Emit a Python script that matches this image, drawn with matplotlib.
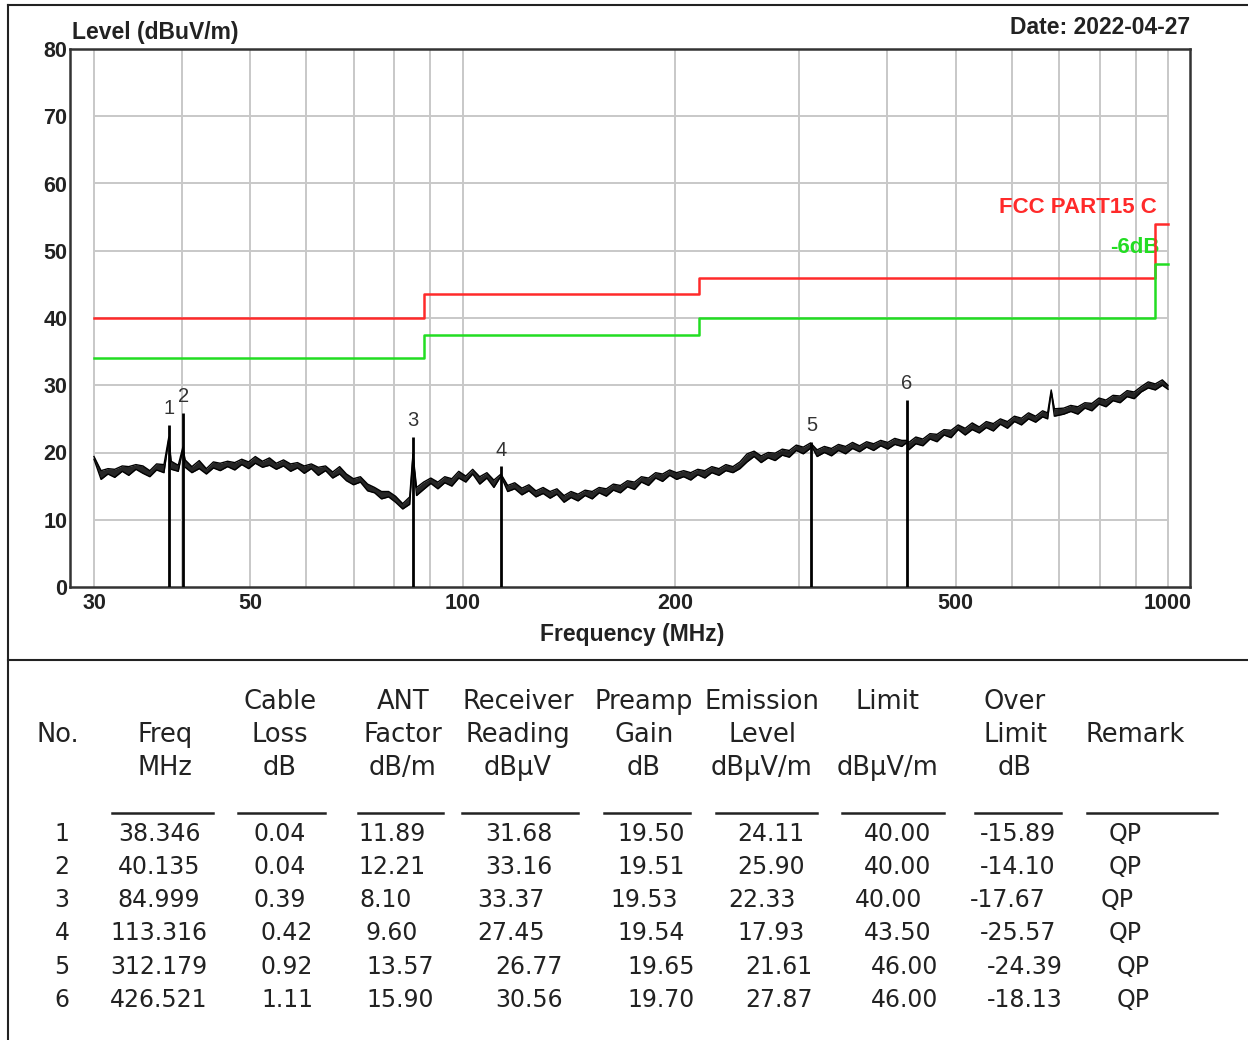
import matplotlib
matplotlib.use('Agg')
import matplotlib.pyplot as plt
from matplotlib.lines import Line2D

# ---- sweep trace: lower / upper edge of the noise band ----
freq = [30, 30.7, 31.4, 32.1, 32.9, 33.6, 34.4, 35.2, 36.0, 36.8, 37.7, 38.3, 38.6, 39.5, 40.1,
        40.4, 41.3, 42.3, 43.3, 44.3, 45.3, 46.4, 47.5, 48.6, 49.7, 50.8, 52.0, 53.2, 54.4, 55.7,
        57.0, 58.3, 59.6, 61.0, 62.4, 63.9, 65.4, 66.9, 68.4, 70.0, 71.6, 73.3, 75.0, 76.7, 78.5,
        80.3, 82.2, 84.1, 85.0, 86.0, 88.0, 90.1, 92.2, 94.3, 96.5, 98.7, 101, 103.3, 105.7, 108.2,
        110.7, 113.3, 115.8, 118.5, 121.3, 124.1, 127, 130, 133, 136, 139.2, 142.4, 145.7, 149.1,
        152.6, 156.1, 159.8, 163.5, 167.3, 171.2, 175.2, 179.2, 183.4, 187.7, 192, 196.5, 201,
        205.7, 210.5, 215.4, 220.4, 225.5, 230.8, 236.1, 241.6, 247.2, 253, 258.9, 264.9, 271,
        277.3, 283.8, 290.4, 297.1, 304, 311, 312.2, 318, 325.7, 333.3, 341, 349, 357, 365.3,
        373.8, 382.5, 391.4, 400.5, 409.8, 419.3, 426.5, 429, 439, 449.2, 459.7, 470.4, 481.3,
        492.5, 504, 515.7, 527.7, 540, 552.5, 565.4, 578.5, 592, 605.7, 619.8, 634.2, 649, 664,
        675, 683, 690, 711.5, 728, 745, 762.3, 780, 798.2, 816.7, 835.7, 855.2, 875, 895.4, 916.2,
        937.5, 959.3, 981.6, 1000]
level = [19.0, 16.0, 16.8, 16.3, 17.2, 16.6, 17.5, 16.9, 16.4, 17.4, 17.0, 22.0, 17.5, 17.2, 20.5,
         17.8, 17.0, 17.6, 16.8, 17.7, 17.3, 17.9, 17.4, 18.2, 17.6, 18.4, 17.8, 18.1, 17.5, 18.0,
         17.2, 17.7, 16.9, 17.6, 16.6, 17.3, 16.2, 16.8, 15.8, 15.2, 15.6, 14.3, 14.0, 13.1, 13.4,
         12.6, 11.6, 12.3, 19.5, 13.6, 14.5, 15.4, 14.6, 15.5, 15.0, 16.2, 15.6, 16.8, 15.3, 16.2,
         14.8, 16.5, 14.2, 14.6, 13.7, 14.3, 13.4, 13.9, 13.2, 13.8, 12.6, 13.3, 12.8, 13.6,
         13.1, 14.0, 13.5, 14.4, 14.0, 14.9, 14.5, 15.6, 15.1, 16.2, 15.7, 16.6, 16.0,
         16.4, 15.9, 16.7, 16.2, 17.0, 16.6, 17.3, 17.0, 17.6, 18.6, 19.4, 18.5, 19.2,
         18.8, 19.6, 19.3, 20.3, 19.8, 20.6, 21.0, 19.4, 20.0, 19.5, 20.3, 19.8, 20.6, 20.1,
         20.8, 20.3, 21.0, 20.5, 21.2, 20.9, 21.5, 20.4, 21.3, 21.0, 22.0, 21.6, 22.6,
         22.2, 23.4, 22.6, 23.4, 22.9, 23.7, 23.2, 24.2, 23.6, 24.6, 24.1, 25.0, 24.5, 25.3,
         25.0, 29.0, 25.4, 25.7, 26.1, 25.7, 26.6, 26.2, 27.2, 26.8, 27.7, 27.4, 28.3, 28.0, 29.0,
         29.6, 29.3, 30.0, 29.4]
level_hi = [19.4, 17.3, 17.6, 17.5, 18.0, 17.9, 18.2, 18.0, 17.3, 18.3, 18.2, 22.3, 18.7, 18.1, 20.8,
            18.9, 17.9, 18.8, 17.6, 18.6, 18.4, 18.7, 18.5, 19.0, 18.6, 19.4, 18.7, 19.2, 18.4, 18.9,
            18.3, 18.5, 18.0, 18.3, 17.8, 18.0, 17.1, 17.9, 16.8, 16.1, 16.4, 15.3, 14.8, 14.2, 14.2,
            13.5, 12.4, 13.4, 19.8, 14.8, 15.6, 16.2, 15.6, 16.4, 16.1, 17.2, 16.5, 17.5, 16.4, 17.0,
            15.9, 16.8, 15.1, 15.5, 14.7, 15.2, 14.3, 14.8, 14.2, 14.6, 13.6, 14.2, 13.8, 14.4,
            14.2, 14.8, 14.6, 15.3, 15.1, 15.8, 15.6, 16.4, 16.2, 17.0, 16.8, 17.4, 17.0,
            17.3, 17.0, 17.5, 17.3, 17.9, 17.6, 18.2, 17.9, 18.6, 19.8, 20.2, 19.5, 20.0,
            19.9, 20.5, 20.3, 21.1, 20.8, 21.4, 21.3, 20.4, 20.9, 20.6, 21.2, 20.9, 21.5, 21.0,
            21.6, 21.3, 21.8, 21.5, 22.1, 21.8, 21.8, 21.5, 22.3, 22.0, 22.8, 22.7, 23.4,
            23.3, 24.1, 23.6, 24.4, 23.8, 24.6, 24.3, 25.0, 24.6, 25.4, 25.1, 25.9, 25.4, 26.2,
            25.9, 29.3, 26.5, 26.6, 27.0, 26.8, 27.4, 27.3, 28.1, 27.8, 28.5, 28.4, 29.2, 29.0, 29.8,
            30.5, 30.2, 30.8, 30.0]

# ---- limit lines ----
limit_f = [30, 88, 88, 216, 216, 960, 960, 1000]
limit_red = [40, 40, 43.5, 43.5, 46, 46, 54, 54]
limit_green = [34, 34, 37.5, 37.5, 40, 40, 48, 48]

# ---- peak table ----
no = ['1', '2', '3', '4', '5', '6']
freq_mhz = ['38.346', '40.135', '84.999', '113.316', '312.179', '426.521']
cable_loss = ['0.04', '0.04', '0.39', '0.42', '0.92', '1.11']
ant_factor = ['11.89', '12.21', '8.10', '9.60', '13.57', '15.90']
reading = ['31.68', '33.16', '33.37', '27.45', '26.77', '30.56']
preamp = ['19.50', '19.51', '19.53', '19.54', '19.65', '19.70']
emission = ['24.11', '25.90', '22.33', '17.93', '21.61', '27.87']
limit = ['40.00', '40.00', '40.00', '43.50', '46.00', '46.00']
over_limit = ['-15.89', '-14.10', '-17.67', '-25.57', '-24.39', '-18.13']
remark = ['QP', 'QP', 'QP', 'QP', 'QP', 'QP']

x_ticks = [30, 50, 100, 200, 500, 1000]
x_grid = [30, 40, 50, 60, 70, 80, 90, 100, 200, 300, 400, 500, 600, 700, 800, 900, 1000]
y_ticks = [0, 10, 20, 30, 40, 50, 60, 70, 80]

W, H = 1248, 1040
fig = plt.figure(figsize=(W / 100, H / 100), dpi=100)
fx = lambda x: x / W
fy = lambda y: 1 - y / H
cfont = 'Liberation Sans'

ax = fig.add_axes([fx(70), fy(587), fx(1190) - fx(70), fy(49) - fy(587)])
ax.set_xscale('log')
ax.set_xlim(27.74, 1074.5)
ax.set_ylim(0, 80)

# grid only over the data range
ax.vlines(x_grid, 0, 80, color='#c8c8c8', lw=1.4, zorder=0)
ax.hlines(y_ticks[1:-1], 30, 1000, color='#c8c8c8', lw=1.4, zorder=0)

ax.plot(limit_f, limit_red, color='#ff2a2a', lw=1.8, zorder=2)
ax.plot(limit_f, limit_green, color='#22dd22', lw=1.8, zorder=2)

# noise band of the sweep
ax.fill_between(freq, level, level_hi, color='black', alpha=0.85, lw=0, zorder=3)
ax.plot(freq, level, color='black', lw=1.0, zorder=3)
ax.plot(freq, level_hi, color='black', lw=1.0, zorder=3)

mk_f = [float(v) for v in freq_mhz]
mk_l = [float(v) for v in emission]
ax.vlines(mk_f, 0, mk_l, color='black', lw=2, zorder=4)
for n, f, l in zip(no, mk_f, mk_l):
    ax.text(f, l + 2.4, n, ha='center', va='center', fontsize=14.5, color='#333333',
            family=cfont)

ax.text(1000 * 0.965, 56.5, 'FCC PART15 C', color='#ff2a2a', ha='right', va='center',
        fontsize=16, family=cfont, fontweight='bold')
ax.text(1000 * 0.974, 50.5, '-6dB', color='#22dd22', ha='right', va='center',
        fontsize=16, family=cfont, fontweight='bold', zorder=1)

ax.minorticks_off()
ax.set_xticks(x_ticks)
ax.set_xticklabels([str(t) for t in x_ticks])
ax.set_yticks(y_ticks)
ax.tick_params(length=0, labelsize=15.5, colors='#222222')
ax.tick_params(axis='x', pad=4)
ax.tick_params(axis='y', pad=2)
for lab in ax.get_xticklabels() + ax.get_yticklabels():
    lab.set_family(cfont)
    lab.set_fontweight('bold')
for s in ax.spines.values():
    s.set_color('#333333')
    s.set_linewidth(1.8)

fig.text(fx(72), fy(32), 'Level (dBuV/m)', ha='left', va='center', fontsize=16.5,
         fontweight='bold', family=cfont, color='#222222')
fig.text(fx(1190), fy(27), 'Date: 2022-04-27', ha='right', va='center', fontsize=16.5,
         fontweight='bold', family=cfont, color='#222222')
fig.text(fx(632), fy(635), 'Frequency (MHz)', ha='center', va='center', fontsize=16.5,
         fontweight='bold', family=cfont, color='#222222')

# page borders
def fline(xs, ys, lw=1.5, color='#222222'):
    fig.add_artist(Line2D([fx(v) for v in xs], [fy(v) for v in ys], lw=lw, color=color,
                          transform=fig.transFigure))

fline([8, 1248], [5, 5])
fline([8, 8], [5, 1040])
fline([8, 1248], [660, 660])

# ---- table ----
tfont = ['Liberation Sans Narrow', 'DejaVu Sans']
tcol = '#222222'
headers = [['', 'No.', ''], ['', 'Freq', 'MHz'], ['Cable', 'Loss', 'dB'],
           ['ANT', 'Factor', 'dB/m'], ['Receiver', 'Reading', 'dBμV'],
           ['Preamp', 'Gain', 'dB'], ['Emission', 'Level', 'dBμV/m'],
           ['Limit', '', 'dBμV/m'], ['Over', 'Limit', 'dB'], ['', 'Remark', '']]
head_x = [58, 165, 280, 403, 518, 644, 762, 888, 1015, 1135]
head_y = [702, 735, 768]
for hx, lines in zip(head_x, headers):
    for hy, t in zip(head_y, lines):
        if t:
            fig.text(fx(hx), fy(hy), t, ha='center', va='center', fontsize=18.5,
                     family=tfont, color=tcol)

underline = [(112, 213), (238, 325), (358, 443), (462, 578), (604, 690),
             (716, 817), (842, 944), (975, 1061), (1087, 1217)]
for a, b in underline:
    fline([a, b], [813, 813], lw=1.8)

columns = [no, freq_mhz, cable_loss, ant_factor, reading, preamp, emission, limit,
           over_limit, remark]
col_x = [62, 159, 280, 392, 519, 651, 771, 898, 1018, 1125]
col_shift = [[0, 0, 0, 0, 0, 0], [0, 0, 0, 0, 0, 0], [0, 0, 0, 7, 7, 7],
             [0, 0, -6, 0, 8, 8], [0, 0, -8, -8, 10, 10], [0, 0, -7, 0, 10, 10],
             [0, 0, -9, 0, 8, 8], [0, 0, -9, 0, 7, 7], [0, 0, -10, 0, 7, 7],
             [0, 0, -8, 0, 8, 8]]
row_y = [834, 867, 900, 933, 967, 1000]
for vals, cx, sh in zip(columns, col_x, col_shift):
    for v, ry, d in zip(vals, row_y, sh):
        fig.text(fx(cx + d), fy(ry), v, ha='center', va='center', fontsize=17,
                 family=tfont, color=tcol)

fig.savefig('out.png', dpi=100)
